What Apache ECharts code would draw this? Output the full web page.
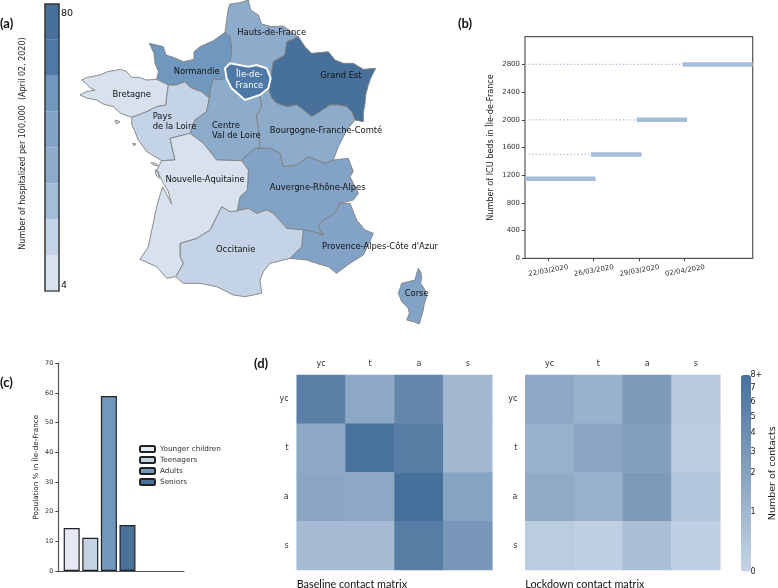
<!DOCTYPE html>
<html><head><meta charset="utf-8">
<style>html,body{margin:0;padding:0;background:#fff}#c{width:778px;height:588px}</style>
<script src="https://cdn.jsdelivr.net/npm/echarts@6/dist/echarts.min.js"></script>
</head><body><div id="c"></div>
<script>
// ---------- (a) regional hospitalisations
const regionNames = ['Hauts-de-France','Normandie','Bretagne','Pays de la Loire','Centre Val de Loire','Grand Est','Bourgogne-Franche-Comté','Auvergne-Rhône-Alpes',"Provence-Alpes-Côte d'Azur",'Occitanie','Nouvelle-Aquitaine','Corse','Île-de-France'];
const hospitalized = [41,58,9,19,33,79,42,50,51,20,11,50,71];
const binEdges = [2.6,12.6,22.65,32.7,42.7,52.75,62.75,72.8,82.8];
const binColors = ['#d7e2ee','#c4d3e5','#a3bcd7','#8dabcb','#82a3c6','#7097bd','#4e79a7','#47709a'];
const colorbarLabels = [4,80];
const colorbarTicks = [32.6,47.5,58.7,66.8,72.7];
const regionOutlines = {
 'Hauts-de-France':[[682,45],[685,25],[690,12],[720,8],[745,0],[752,30],[775,45],[785,72],[815,80],[850,78],[880,100],[895,110],[875,120],[860,125],[855,165],[820,185],[812,235],[800,205],[770,195],[745,200],[690,190],[695,150],[690,110],[675,97]],
 'Normandie':[[448,130],[490,140],[498,165],[520,172],[550,185],[582,178],[582,155],[600,140],[640,122],[675,97],[690,110],[695,150],[690,190],[675,205],[680,235],[655,240],[640,235],[632,265],[628,295],[605,275],[590,270],[570,262],[555,245],[530,255],[505,255],[470,238],[475,215],[465,190],[462,160]],
 'Bretagne':[[245,240],[262,232],[300,225],[322,215],[340,212],[362,208],[380,215],[395,232],[418,232],[440,240],[470,238],[505,255],[500,290],[498,315],[470,320],[440,335],[415,345],[395,352],[375,345],[362,340],[340,320],[310,312],[290,300],[262,295],[240,285],[258,275],[285,270],[268,262],[258,250]],
 'Pays de la Loire':[[505,255],[530,255],[555,245],[570,262],[590,270],[605,275],[628,295],[620,335],[585,360],[570,400],[510,415],[525,480],[485,482],[440,455],[415,420],[395,372],[395,352],[415,345],[440,335],[470,320],[498,315],[500,290]],
 'Centre Val de Loire':[[628,295],[632,265],[640,235],[655,240],[680,235],[695,265],[735,300],[780,285],[785,320],[770,345],[775,385],[780,440],[735,470],[725,482],[650,480],[610,430],[570,400],[585,360],[620,335]],
 'Grand Est':[[895,110],[915,140],[935,160],[985,155],[1005,180],[1030,190],[1060,190],[1090,208],[1127,205],[1112,235],[1105,255],[1097,285],[1095,310],[1090,340],[1090,365],[1065,360],[1055,335],[1040,320],[1015,315],[990,315],[960,335],[935,350],[910,330],[890,315],[860,320],[830,310],[815,295],[805,265],[812,235],[820,185],[855,165],[860,125],[875,120]],
 'Bourgogne-Franche-Comté':[[780,285],[805,265],[815,295],[830,310],[860,320],[890,315],[910,330],[935,350],[960,335],[990,315],[1015,315],[1040,320],[1055,335],[1065,360],[1040,390],[1015,440],[1000,480],[975,490],[925,470],[890,495],[850,500],[840,460],[810,445],[765,445],[735,470],[780,440],[775,385],[770,345],[785,320]],
 'Auvergne-Rhône-Alpes':[[735,470],[765,445],[810,445],[840,460],[850,500],[890,495],[925,470],[975,490],[1000,480],[1045,475],[1060,515],[1050,530],[1075,580],[1060,600],[1020,610],[1005,640],[970,660],[955,680],[970,705],[940,695],[910,690],[860,685],[820,640],[800,630],[770,640],[745,625],[712,632],[720,590],[742,570],[745,510],[725,482]],
 "Provence-Alpes-Côte d'Azur":[[1020,610],[1050,610],[1070,660],[1095,690],[1120,700],[1105,735],[1090,765],[1050,790],[1010,820],[985,800],[965,795],[920,780],[870,775],[905,740],[910,690],[940,695],[970,705],[955,680],[970,660],[1005,640]],
 'Occitanie':[[712,632],[745,625],[770,640],[800,630],[820,640],[860,685],[910,690],[905,740],[870,775],[810,790],[790,815],[780,840],[785,880],[735,890],[700,885],[650,860],[600,850],[550,850],[527,830],[550,790],[540,770],[540,730],[590,715],[630,690],[665,620],[690,635]],
 'Nouvelle-Aquitaine':[[485,482],[525,480],[510,415],[570,400],[610,430],[650,480],[725,482],[745,510],[742,570],[720,590],[712,632],[690,635],[665,620],[630,690],[590,715],[540,730],[540,770],[550,790],[527,830],[500,835],[470,800],[420,778],[445,740],[470,620],[480,585],[488,560],[515,612],[505,575],[490,550],[470,510]],
 'Corse':[[1255,805],[1262,815],[1265,830],[1262,850],[1275,870],[1280,890],[1272,915],[1270,930],[1258,972],[1240,965],[1220,960],[1228,940],[1225,925],[1205,905],[1195,880],[1205,850],[1225,845],[1245,840],[1250,820]],
 'Île-de-France':[[675,205],[690,190],[745,200],[770,195],[800,205],[812,235],[805,265],[780,285],[735,300],[695,265],[680,235]]
};
const regionIslands = {
 'Bretagne':[[[345,360],[360,365],[350,372]]],
 'Pays de la Loire':[[[398,430],[408,432],[402,438]]],
 'Nouvelle-Aquitaine':[[[453,488],[468,490],[475,498],[460,495]],[[465,510],[475,515],[478,535],[468,525]]]
};
const labelAnchors = {
 'Hauts-de-France':[815,98],'Normandie':[590,216],'Bretagne':[395,283],'Pays de la Loire':[524,365],'Centre Val de Loire':[711,392],
 'Grand Est':[1023,226],'Bourgogne-Franche-Comté':[978,392],'Auvergne-Rhône-Alpes':[953,563],"Provence-Alpes-Côte d'Azur":[1140,739],
 'Occitanie':[707,749],'Nouvelle-Aquitaine':[615,538],'Corse':[1250,882],'Île-de-France':[748,241]
};
const labelText = {'Pays de la Loire':'{p|Pays}\n{p|de la Loire}','Centre Val de Loire':'{c|Centre}\n{c|Val de Loire}','Île-de-France':'Île-de-\nFrance'};
// ---------- (b) ICU beds
const bedLevels = [1150,1500,2000,2800];
const bedStart = [-0.5,0.95,1.95,2.96];
const bedEnd = [1.05,2.06,3.06,4.5];
const bedDates = ['22/03/2020','26/03/2020','29/03/2020','02/04/2020'];
const bedTicks = [0,1,2,3];
const bedAxisTicks = [0,400,800,1200,1600,2000,2400,2800];
// ---------- (c) population
const ageGroups = ['Younger children','Teenagers','Adults','Seniors'];
const populationPct = [14.5,11.2,59,15.5];
const ageColors = ['#e3eaf3','#c3d3e3','#7098bd','#4a7199'];
// ---------- (d) contact matrices
const ageShort = ['yc','t','a','s'];
const baselineMatrix = [[5.8,1.7,4.7,0.95],[1.7,7.7,6,0.95],[1.8,1.7,8,2.0],[0.85,0.85,6,3.1]];
const lockdownMatrix = [[1.7,1.2,2.7,0.4],[1.3,1.8,2.3,0.3],[1.6,1.3,2.7,0.5],[0.3,0.15,0.7,0.2]];
const contactTicks = [0,1,2,3,4,5,6,7,8];
const contactTickPos = [0,0.305,0.5,0.61,0.703,0.788,0.863,0.932,1];
const contactTickLabels = ['0','1','2','3','4','5','6','7','8+'];
const contactColors = ['#c6d5e6','#46709b'];

const F = 'DejaVu Sans';
const toScale = v => {
  for (let i = 1; i < contactTicks.length; i++) if (v <= contactTicks[i]) {
    const t = (v - contactTicks[i-1]) / (contactTicks[i] - contactTicks[i-1]);
    return contactTickPos[i-1] + t * (contactTickPos[i] - contactTickPos[i-1]);
  }
  return 1;
};
const binColor = v => { for (let i = 0; i < binColors.length; i++) if (v <= binEdges[i+1]) return binColors[i]; return binColors[binColors.length-1]; };
const closeRing = r => { const o = r.map(p => [p[0], -p[1]]); o.push(o[0]); return o; };
const geo = {type:'FeatureCollection',features:regionNames.map(n => {
  const polys = [[closeRing(regionOutlines[n])]].concat((regionIslands[n]||[]).map(r=>[closeRing(r)]));
  return {type:'Feature',properties:{name:n,cp:[labelAnchors[n][0],-labelAnchors[n][1]]},geometry:{type:'MultiPolygon',coordinates:polys}};
})};
echarts.registerMap('fr', geo);
const chart = echarts.init(document.getElementById('c'), null, {renderer:'canvas'});

const cellData = m => { const o=[]; m.forEach((r,y)=>r.forEach((v,x)=>o.push([x,y,toScale(v)]))); return o; };
const heatAxes = g => ({
  x:{type:'category',gridIndex:g,data:ageShort,position:'top',axisLine:{show:false},axisTick:{show:false},splitLine:{show:false},axisLabel:{fontFamily:F,fontSize:8,color:'#333',margin:7}},
  y:{type:'category',gridIndex:g,data:ageShort,inverse:true,axisLine:{show:false},axisTick:{show:false},splitLine:{show:false},axisLabel:{fontFamily:F,fontSize:8,color:'#333',margin:8}}
});
const h1 = heatAxes(3), h2 = heatAxes(4);
const letter = (t,x,y) => ({text:t,left:x,top:y,padding:0,textStyle:{fontFamily:'Lato',fontWeight:'bold',fontSize:13,color:'#111'}});
const caption = (t,x,y) => ({text:t,left:x,top:y,padding:0,textStyle:{fontFamily:'Lato',fontWeight:'normal',fontSize:10.8,color:'#111'}});

const series = [];
const richLeft = w => ({width:w,align:'left',fontFamily:F,fontSize:8.4,lineHeight:10.5,color:'#111'});
series.push({type:'map',map:'fr',roam:false,left:0,top:0,width:450,height:340,aspectScale:1,boundingCoords:[[0,0],[1350,-1020]],silent:true,
  selectedMode:false,showLegendSymbol:false,
  label:{show:true,fontFamily:F,fontSize:8.4,color:'#111',lineHeight:10.5,formatter:p=>labelText[p.name]||p.name,rich:{p:richLeft(44),c:richLeft(50)}},
  itemStyle:{borderColor:'#808080',borderWidth:0.9},
  data:regionNames.map((n,i)=>{
    const d={name:n,value:hospitalized[i],itemStyle:{areaColor:binColor(hospitalized[i])}};
    if(n==='Île-de-France'){d.itemStyle.borderColor='#fff';d.itemStyle.borderWidth=1.9;d.label={color:'#fff'};}
    return d;
  })});
binColors.forEach((c,i)=>series.push({type:'bar',xAxisIndex:0,yAxisIndex:0,stack:'bins',barWidth:14,silent:true,itemStyle:{color:c},data:[i===0?binEdges[1]:binEdges[i+1]-binEdges[i]]}));
bedLevels.forEach((v,i)=>{
  if(bedStart[i]>-0.5) series.push({type:'line',xAxisIndex:1,yAxisIndex:2,symbol:'none',silent:true,lineStyle:{color:'#a7bed9',width:1.3,type:[1.3,2.2]},data:[[-0.5,v],[bedStart[i],v]]});
  series.push({type:'line',xAxisIndex:1,yAxisIndex:2,symbol:'none',silent:true,lineStyle:{color:'#a7bed9',width:4.5,cap:'butt'},data:[[bedStart[i],v],[bedEnd[i],v]]});
});
ageGroups.forEach((n,i)=>series.push({type:'bar',name:n,xAxisIndex:2,yAxisIndex:3,barWidth:16,barGap:'-100%',silent:true,itemStyle:{color:ageColors[i],borderColor:'#222',borderWidth:1.2},data:[[i,populationPct[i]]]}));
const heatStart = series.length;
series.push({type:'heatmap',xAxisIndex:3,yAxisIndex:4,silent:true,data:cellData(baselineMatrix)});
series.push({type:'heatmap',xAxisIndex:4,yAxisIndex:5,silent:true,data:cellData(lockdownMatrix)});
const frameLine = c => ({show:true,onZero:false,lineStyle:{color:c,width:1.5}});

chart.setOption({
  animation:false,backgroundColor:'#fff',
  title:[letter('(a)',0,17),letter('(b)',458,17),letter('(c)',0,376),letter('(d)',254,357),
         caption('Baseline contact matrix',296.7,579),caption('Lockdown contact matrix',525.3,579)],
  legend:{data:ageGroups,orient:'vertical',left:139,top:445,itemWidth:15,itemHeight:6,itemGap:3,padding:0,selectedMode:false,textStyle:{fontFamily:F,fontSize:7.3,color:'#333'}},
  grid:[
    {left:45,top:4,width:14,height:287},
    {left:525,top:36.7,width:227.7,height:221.6,show:true,borderColor:'#555',borderWidth:1.2},
    {left:58.3,top:363.3,width:125.7,height:207.7},
    {left:296.7,top:375,width:195.6,height:195},
    {left:525.3,top:375,width:195,height:195},
    {left:741,top:375,width:10,height:196.5}
  ],
  xAxis:[
    {type:'category',gridIndex:0,data:[''],z:10,axisLine:frameLine('#555'),axisTick:{show:false},axisLabel:{show:false}},
    {type:'value',gridIndex:1,min:-0.5,max:4.5,splitLine:{show:false},axisLine:{show:false,onZero:false},
      axisTick:{customValues:bedTicks,length:3,lineStyle:{color:'#444'}},
      axisLabel:{customValues:bedTicks,rotate:10,align:'center',verticalAlign:'top',fontFamily:F,fontSize:7,color:'#333',margin:9,formatter:v=>bedDates[Math.round(v)]}},
    {type:'value',gridIndex:2,min:-0.72,max:6.04,splitLine:{show:false},axisLine:{show:true,onZero:false,lineStyle:{color:'#555',width:1.2}},axisTick:{show:false},axisLabel:{show:false}},
    h1.x,h2.x,
    {type:'category',gridIndex:5,data:[''],axisLine:{show:false},axisTick:{show:false},axisLabel:{show:false}},
    {type:'category',gridIndex:0,position:'top',data:[''],z:10,axisLine:frameLine('#333'),axisTick:{show:false},axisLabel:{show:false}}
  ],
  yAxis:[
    {type:'value',gridIndex:0,position:'right',z:10,min:2.6,max:82.8,splitLine:{show:false},axisLine:frameLine('#333'),
      axisTick:{customValues:colorbarTicks,inside:false,length:2,lineStyle:{color:'#333'}},
      axisLabel:{customValues:colorbarLabels,fontFamily:F,fontSize:9.5,color:'#111',margin:2}},
    {type:'value',gridIndex:0,position:'left',z:10,min:2.6,max:82.8,splitLine:{show:false},axisLine:frameLine('#333'),axisTick:{show:false},axisLabel:{show:false},
      name:'Number of hospitalized per 100,000  (April 02, 2020)',nameLocation:'middle',nameRotate:90,nameGap:18,nameTextStyle:{fontFamily:F,fontSize:8,color:'#222',padding:[0,0,0,8]}},
    {type:'value',gridIndex:1,min:0,max:3200,interval:400,splitLine:{show:false},axisLine:{show:false,onZero:false},
      axisTick:{length:3,lineStyle:{color:'#444'},customValues:bedAxisTicks},
      axisLabel:{customValues:bedAxisTicks,fontFamily:F,fontSize:7,color:'#333',margin:5,formatter:v=>String(v)},
      name:'Number of ICU beds in Île-de-France',nameLocation:'middle',nameRotate:90,nameGap:30,nameTextStyle:{fontFamily:F,fontSize:8.1,color:'#222'}},
    {type:'value',gridIndex:2,min:0,max:70,interval:10,splitLine:{show:false},axisLine:{show:true,onZero:false,lineStyle:{color:'#555',width:1.2}},
      axisTick:{show:true,length:3,lineStyle:{color:'#444'}},axisLabel:{fontFamily:F,fontSize:6.5,color:'#333',margin:5},
      name:'Population % in Île-de-France',nameLocation:'middle',nameRotate:90,nameGap:19,nameTextStyle:{fontFamily:F,fontSize:7.2,color:'#222'}},
    h1.y,h2.y,
    {type:'value',gridIndex:5,position:'right',min:0,max:1,splitLine:{show:false},axisLine:{show:false,onZero:false},
      axisTick:{customValues:contactTickPos,length:4,lineStyle:{color:'#333'}},
      axisLabel:{customValues:contactTickPos,fontFamily:F,fontSize:8,color:'#222',margin:7,formatter:v=>contactTickLabels[contactTickPos.indexOf(v)]},
      name:'Number of contacts',nameLocation:'middle',nameRotate:90,nameGap:24,nameTextStyle:{fontFamily:F,fontSize:9.5,color:'#222'}}
  ],
  visualMap:[{type:'continuous',seriesIndex:[heatStart,heatStart+1],min:0,max:1,show:true,calculable:false,realtime:false,
    left:741,top:375,itemWidth:10,itemHeight:196.5,padding:0,text:null,showLabel:false,
    inRange:{color:contactColors}}],
  series
});
</script></body></html>
